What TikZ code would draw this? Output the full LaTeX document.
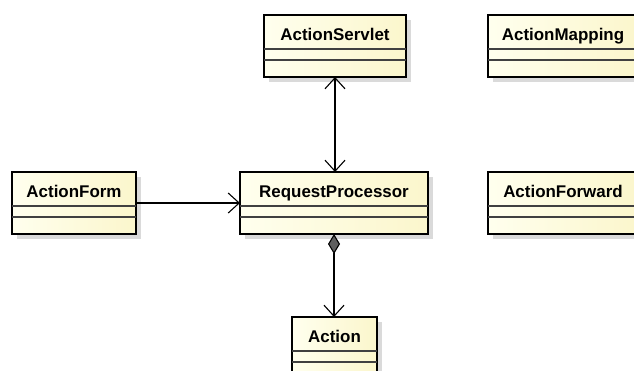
\documentclass[tikz,border=0pt]{standalone}
\usepackage{fontspec}
\setmainfont{Liberation Sans}
\usetikzlibrary{arrows.meta,shadows,calc}
\definecolor{clsL}{RGB}{255,255,238}
\definecolor{clsR}{RGB}{251,246,204}
\definecolor{shd}{RGB}{218,218,218}
\definecolor{dia}{RGB}{95,95,95}
\tikzset{
  cls/.style={draw=black, line width=2.3bp, left color=clsL, right color=clsR,
    anchor=north west, inner sep=0pt, outer sep=0pt, minimum height=62bp,
    drop shadow={shadow xshift=5bp, shadow yshift=-5bp, fill=shd, opacity=1}},
  clstitle/.style={font=\bfseries\fontsize{17}{19}\selectfont, anchor=base, inner sep=0pt},
  divider/.style={line width=1.2bp, draw=black!75},
  link/.style={line width=1.1bp, draw=black},
  vtip/.tip={Straight Barb[length=11bp,width=20bp]},
  dtip/.tip={Diamond[length=20bp,width=12bp,fill=dia]},
}
\newcommand\umlclass[5]{%
  \node[cls, minimum width=#4bp] (#1) at (#2,#3) {};
  \node[clstitle] (#1-t) at ($(#1.north)+(0,25)$) {#5};
  \draw[divider] ($(#1.north west)+(0,34)$) -- ($(#1.north east)+(0,34)$);
  \draw[divider] ($(#1.north west)+(0,45)$) -- ($(#1.north east)+(0,45)$);
}
\begin{document}
\begin{tikzpicture}[x=1bp,y=-1bp]
  \useasboundingbox[fill=white] (0,0) rectangle (634,370);
  \umlclass{servlet}{264}{15}{142}{ActionServlet}
  \umlclass{mapping}{488}{15}{150}{ActionMapping}
  \umlclass{form}{12}{172}{124}{ActionForm}
  \umlclass{proc}{240}{172}{188}{RequestProcessor}
  \umlclass{forward}{488}{172}{150}{ActionForward}
  \umlclass{action}{292}{317}{85}{Action}
  \draw[link, vtip-vtip] (servlet.south) -- (servlet.south |- proc.north);
  \draw[link, -vtip] (form.east) -- (form.east -| proc.west);
  \draw[link, dtip-vtip] (proc.south) -- (proc.south |- action.north);
\end{tikzpicture}
\end{document}
